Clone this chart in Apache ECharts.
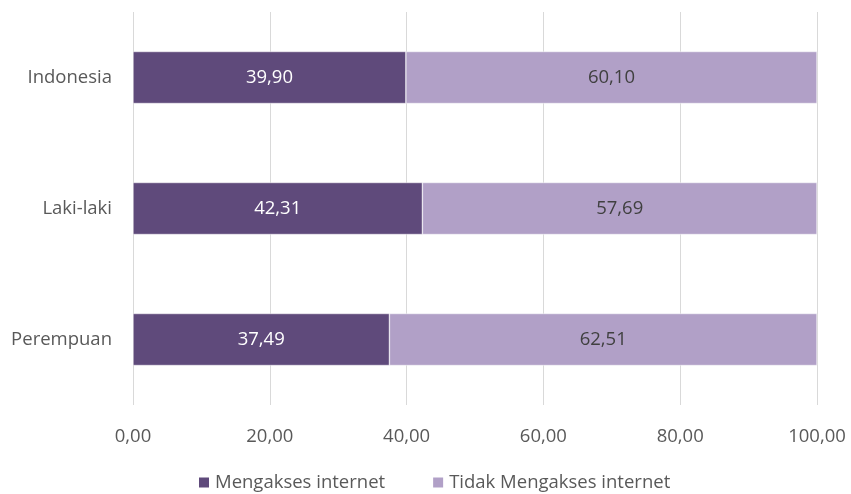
<!DOCTYPE html>
<html>
<head>
<meta charset="utf-8">
<script src="https://cdn.jsdelivr.net/npm/echarts@6/dist/echarts.min.js"></script>
<style>
  html, body { margin: 0; padding: 0; background: #ffffff; }
  #chart { width: 851px; height: 494px; }
</style>
</head>
<body>
<div id="chart"></div>
<script>
// Persentase penduduk yang mengakses internet menurut jenis kelamin
const categories = ['Indonesia', 'Laki-laki', 'Perempuan'];
const mengakses = [39.90, 42.31, 37.49];
const tidakMengakses = [60.10, 57.69, 62.51];
const seriesNames = ['Mengakses internet', 'Tidak Mengakses internet'];

const fontFamily = '"Open Sans", Lato, sans-serif';
const fmt = v => Number(v).toFixed(2).replace('.', ',');
const fs = 18.5;

const chart = echarts.init(document.getElementById('chart'));
chart.setOption({
  animation: false,
  textStyle: { fontFamily: fontFamily },
  grid: { left: 133, right: 34, top: 12, bottom: 89, containLabel: false },
  legend: {
    top: 473,
    left: 197,
    padding: 0,
    itemWidth: 12,
    itemHeight: 12,
    itemGap: 46,
    icon: 'rect',
    textStyle: { fontSize: fs, color: '#595959', fontFamily: fontFamily },
    data: seriesNames
  },
  xAxis: {
    type: 'value',
    min: 0,
    max: 100,
    interval: 20,
    axisLine: { show: false },
    axisTick: { show: false },
    axisLabel: { formatter: fmt, fontSize: fs, color: '#595959', margin: 22 },
    splitLine: { lineStyle: { color: '#d9d9d9', width: 1 } }
  },
  yAxis: {
    type: 'category',
    data: categories,
    inverse: true,
    axisLine: { show: false },
    axisTick: { show: false },
    axisLabel: { fontSize: fs, color: '#595959', margin: 21 }
  },
  series: [
    {
      name: seriesNames[0],
      type: 'bar',
      stack: 'total',
      data: mengakses,
      barWidth: 52,
      itemStyle: { color: '#5f4a7b', borderColor: '#ffffff', borderWidth: 0.5 },
      label: { show: true, position: 'inside', formatter: p => fmt(p.value), color: '#ffffff', fontSize: fs }
    },
    {
      name: seriesNames[1],
      type: 'bar',
      stack: 'total',
      data: tidakMengakses,
      barWidth: 52,
      itemStyle: { color: '#b1a0c7', borderColor: '#ffffff', borderWidth: 0.5 },
      label: { show: true, position: 'inside', formatter: p => fmt(p.value), color: '#404040', fontSize: fs }
    }
  ]
});
</script>
</body>
</html>
